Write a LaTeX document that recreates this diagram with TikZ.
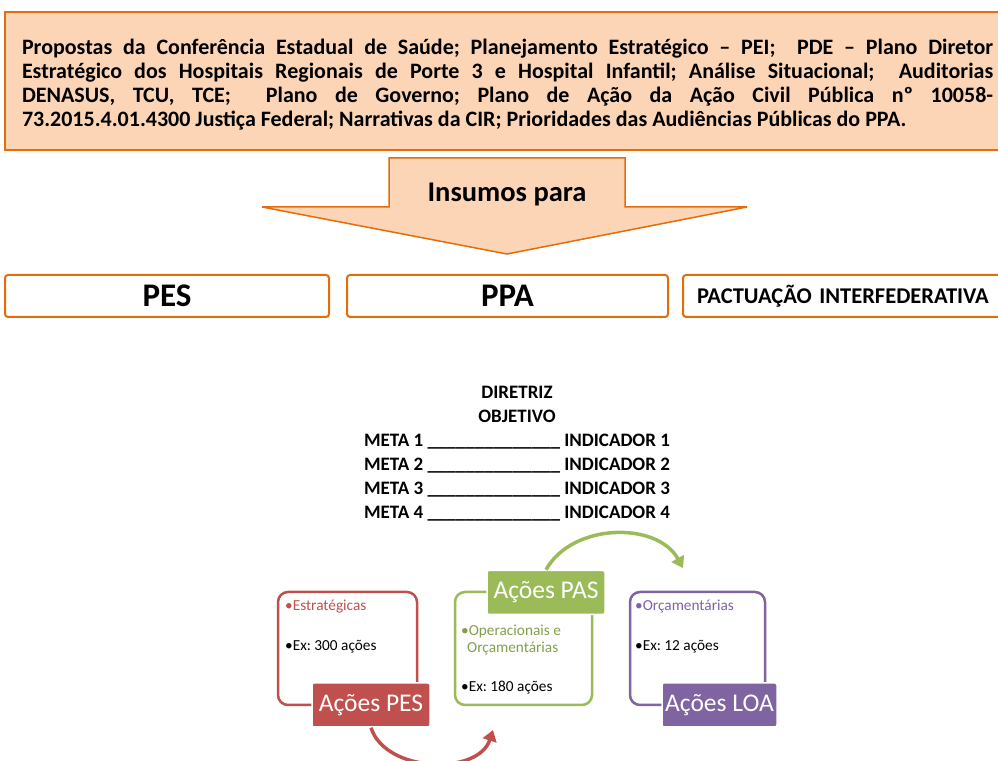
\documentclass[tikz,border=0pt]{standalone}
\usepackage{fontspec}
\setmainfont{Carlito}
\usepackage{xcolor}
\usetikzlibrary{arrows.meta}
\definecolor{niceorange}{RGB}{228,108,10}
\definecolor{peach}{RGB}{251,213,181}
\definecolor{pesred}{RGB}{192,80,77}
\definecolor{pasgreen}{RGB}{155,187,89}
\definecolor{loapurple}{RGB}{128,100,162}

\tikzset{
	rowbox/.style = {draw = niceorange, line width = 2pt, rounded corners = 3pt, fill = white, minimum height = 42pt, inner sep = 0pt},
	cardbox/.style = {line width = 2.5pt, rounded corners = 10pt, fill = white, minimum height = 113pt, inner sep = 0pt},
	cardlabel/.style = {draw = white, line width = 1.5pt, rounded corners = 2pt, text = white, minimum height = 44pt, inner sep = 0pt, font = \fontsize{25.5}{28}\selectfont},
	cardtext/.style = {anchor = west, inner sep = 0pt, font = \fontsize{15.3}{17}\selectfont},
	cyclearrow/.style = {line width = 3.5pt, -{Triangle[length = 11pt, width = 14pt]}}
}

\begin{document}
\frenchspacing
\begin{tikzpicture}[x = 1pt, y = 1pt]
	\useasboundingbox (0,0) rectangle (998,760);
	\clip (0,0) rectangle (998,760);
	% sources
	\node (propostas) at (507.5,679) [draw = niceorange, fill = peach, line width = 2.5pt, minimum width = 1005pt, minimum height = 138pt] {};
	\node (propostastxt) at (507.5,675) [text width = 971pt, inner sep = 0pt, align = justify, font = \bfseries\fontsize{22}{24}\selectfont] {Propostas da Conferência Estadual de Saúde; Planejamento Estratégico -- PEI;\ \ PDE -- Plano Diretor\linebreak Estratégico dos Hospitais Regionais de Porte 3 e Hospital Infantil; Análise Situacional;\ \ Auditorias\linebreak DENASUS, TCU, TCE;\ \ Plano de Governo; Plano de Ação da Ação Civil Pública nº 10058-\linebreak 73.2015.4.01.4300 Justiça Federal; Narrativas da CIR; Prioridades das Audiências Públicas do PPA.};
	\draw [draw = niceorange, fill = peach, line width = 1.5pt] (389,602) -- (625,602) -- (625,553) -- (747,553) -- (507,506) -- (262,553) -- (389,553) -- cycle;
	\node (insumos) at (507,565) [font = \bfseries\fontsize{28.5}{30}\selectfont] {Insumos para};
	% plans
	\node (pes) at (167,464) [rowbox, minimum width = 324pt, font = \bfseries\fontsize{33}{35}\selectfont] {PES};
	\node (ppa) at (507.5,464) [rowbox, minimum width = 321pt, font = \bfseries\fontsize{33}{35}\selectfont] {PPA};
	\node (pact) at (682,464) [rowbox, anchor = west, text width = 316pt, inner xsep = 14pt, align = left, font = \bfseries\fontsize{22.5}{24}\selectfont] {PACTUAÇÃO INTERFEDERATIVA};
	% goals
	\node (metas) at (517,306) [align = center, font = \bfseries\fontsize{19}{24}\selectfont] {DIRETRIZ\\ OBJETIVO\\
		META 1 \_\_\_\_\_\_\_\_\_\_\_\_\_\_ INDICADOR 1\\
		META 2 \_\_\_\_\_\_\_\_\_\_\_\_\_\_ INDICADOR 2\\
		META 3 \_\_\_\_\_\_\_\_\_\_\_\_\_\_ INDICADOR 3\\
		META 4 \_\_\_\_\_\_\_\_\_\_\_\_\_\_ INDICADOR 4};
	% actions
	\node (pesbox) at (347.5,111.5) [cardbox, draw = pesred, minimum width = 139pt] {};
	\node (pasbox) at (523.5,111.5) [cardbox, draw = pasgreen, minimum width = 137pt] {};
	\node (loabox) at (697.5,111.5) [cardbox, draw = loapurple, minimum width = 135pt] {};
	\node (pestxt1) at (285,153) [cardtext, text = pesred] {•Estratégicas};
	\node (pestxt2) at (285,113) [cardtext] {•Ex: 300 ações};
	\node (pastxt1) at (461,129) [cardtext, text = pasgreen!85!black] {•Operacionais e};
	\node (pastxt2) at (467,111) [cardtext, text = pasgreen!85!black] {Orçamentárias};
	\node (pastxt3) at (461,72) [cardtext] {•Ex: 180 ações};
	\node (loatxt1) at (635,153) [cardtext, text = loapurple] {•Orçamentárias};
	\node (loatxt2) at (635,113) [cardtext] {•Ex: 12 ações};
	\node (peslabel) at (371,55) [cardlabel, fill = pesred, minimum width = 118pt] {Ações PES};
	\node (paslabel) at (546,167.5) [cardlabel, fill = pasgreen, minimum width = 118pt] {Ações PAS};
	\node (loalabel) at (719.5,55) [cardlabel, fill = loapurple, minimum width = 115pt] {Ações LOA};
	\coordinate (pesend) at (493,30);
	\coordinate (pasend) at (683,192);
	\draw [cyclearrow, draw = pesred] (peslabel.south) to [out = -72, in = -108] (pesend);
	\draw [cyclearrow, draw = pasgreen] (paslabel.north) to [out = 61, in = 119] (pasend);
\end{tikzpicture}
\end{document}
